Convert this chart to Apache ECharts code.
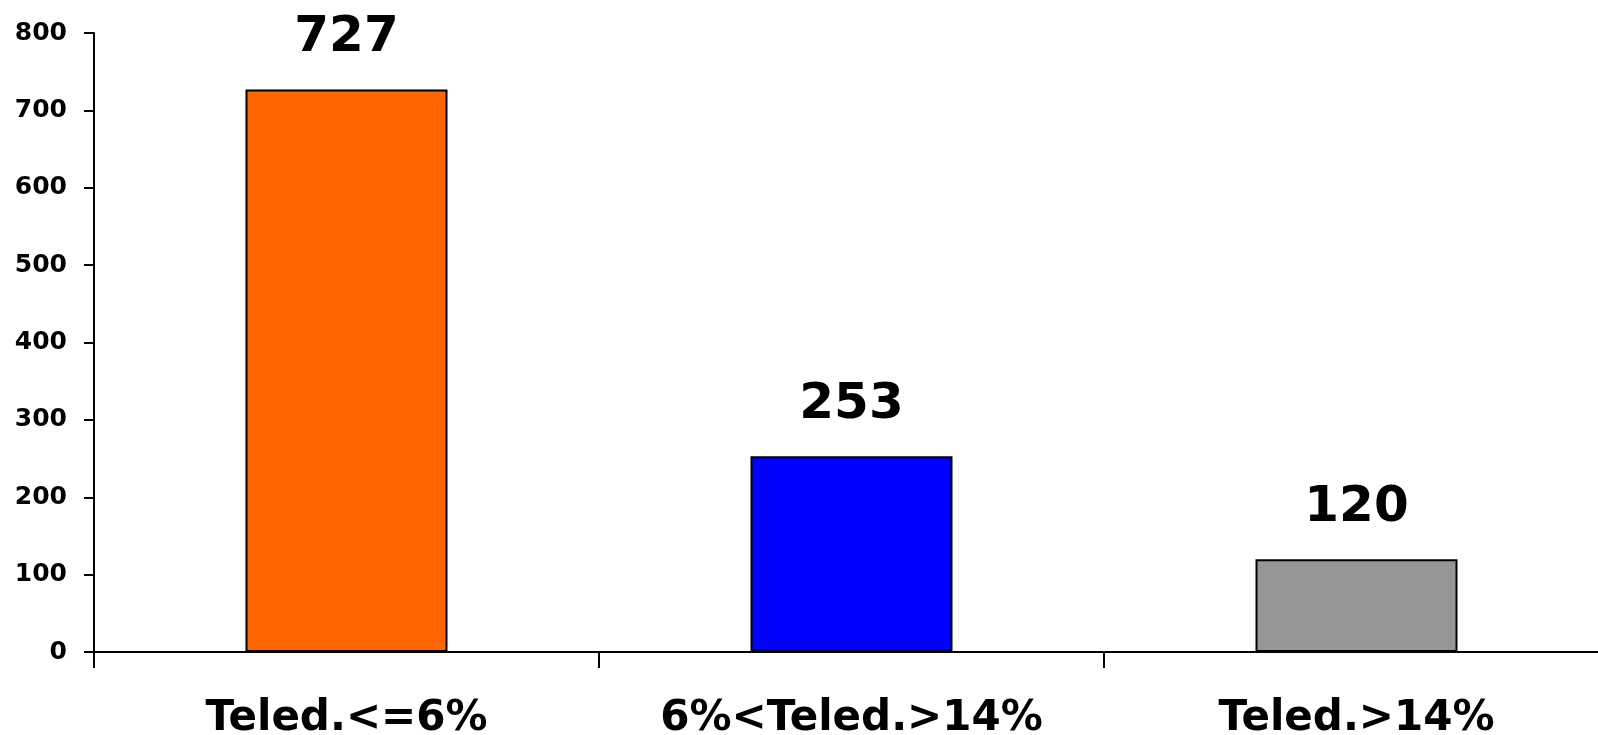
<!DOCTYPE html>
<html>
<head>
<meta charset="utf-8">
<style>
  html, body { margin: 0; padding: 0; background: #ffffff; }
  #chart { width: 1598px; height: 735px; }
</style>
<script src="https://cdn.jsdelivr.net/npm/echarts@6/dist/echarts.min.js"></script>
</head>
<body>
<div id="chart"></div>
<script>
// Counts per teledetection class
const categories = ['Teled.<=6%', '6%<Teled.>14%', 'Teled.>14%'];
const counts = [727, 253, 120];
const barColors = ['#FF6600', '#0000FF', '#969696'];

const yMin = 0;
const yMax = 800;
const yStep = 100;

const FONT = 'DejaVu Sans';

const chart = echarts.init(document.getElementById('chart'), null, { renderer: 'canvas' });

chart.setOption({
  backgroundColor: '#ffffff',
  animation: false,
  // plot area runs a little past the right edge of the canvas
  grid: { left: 94, width: 1515, top: 33, bottom: 83, outerBoundsMode: 'none' },
  xAxis: {
    type: 'category',
    data: categories,
    boundaryGap: true,
    axisLine: { show: true, lineStyle: { color: '#000', width: 2 } },
    axisTick: { show: true, length: 16, lineStyle: { color: '#000', width: 2 } },
    axisLabel: {
      interval: 0,
      margin: 46,
      color: '#000',
      fontFamily: FONT,
      fontWeight: 'bold',
      fontSize: 42
    },
    splitLine: { show: false }
  },
  yAxis: {
    type: 'value',
    min: yMin,
    max: yMax,
    interval: yStep,
    axisLine: { show: true, lineStyle: { color: '#000', width: 2 } },
    axisTick: { show: true, length: 10, lineStyle: { color: '#000', width: 2 } },
    axisLabel: {
      margin: 27,
      color: '#000',
      fontFamily: FONT,
      fontWeight: 'bold',
      fontSize: 25
    },
    splitLine: { show: false }
  },
  series: [{
    type: 'bar',
    barWidth: '40%',
    data: counts.map((v, i) => ({
      value: v,
      itemStyle: { color: barColors[i], borderColor: '#000', borderWidth: 2 }
    })),
    label: {
      show: true,
      position: 'top',
      distance: 26,
      color: '#000',
      fontFamily: FONT,
      fontWeight: 'bold',
      fontSize: 50
    }
  }]
});
</script>
</body>
</html>
